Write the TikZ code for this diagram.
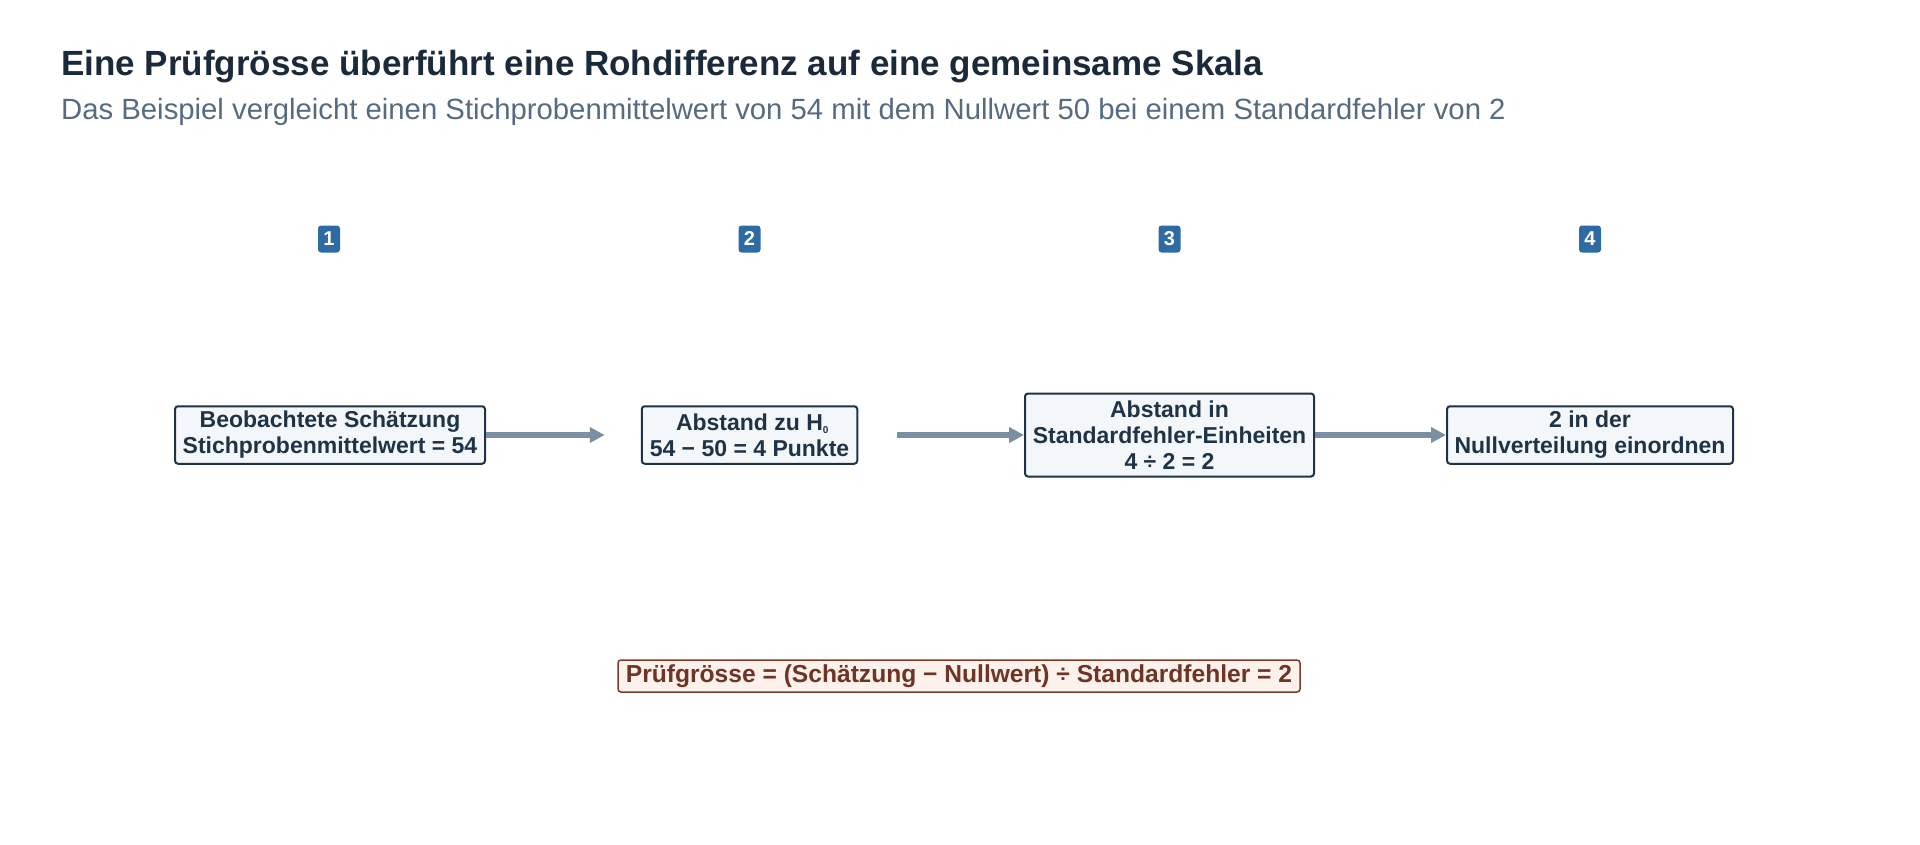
\documentclass[tikz,border=0pt]{standalone}
\usepackage{fontspec}
\setmainfont{Liberation Sans}
\usetikzlibrary{arrows.meta}
\definecolor{titlec}{HTML}{1B2A3A}
\definecolor{subc}{HTML}{566B80}
\definecolor{badgec}{HTML}{2E6BA3}
\definecolor{boxfill}{HTML}{F3F7FA}
\definecolor{boxline}{HTML}{1F3347}
\definecolor{arrowc}{HTML}{7A8FA1}
\definecolor{fmfill}{HTML}{FCF2EB}
\definecolor{fmline}{HTML}{7A3B2B}
\definecolor{fmtext}{HTML}{6E3425}
\tikzset{
  stepbox/.style={draw=boxline, line width=2pt, fill=boxfill, rounded corners=3pt,
    text=boxline, align=center, inner sep=0pt,
    font=\fontsize{23}{26}\selectfont\bfseries},
  badge/.style={fill=badgec, rounded corners=3pt, text=white, inner sep=0pt,
    minimum width=22pt, minimum height=27pt, font=\fontsize{20}{20}\selectfont\bfseries},
  flow/.style={draw=arrowc, line width=5.5pt, -{Triangle[length=15pt,width=15pt]}},
}
\begin{document}
\begin{tikzpicture}[x=1pt,y=-1pt]
\useasboundingbox (0,0) rectangle (1920,844);
\node[anchor=base west, inner sep=0pt, text=titlec, font=\fontsize{35}{40}\selectfont\bfseries] (title) at (61,75)
  {Eine Prüfgrösse überführt eine Rohdifferenz auf eine gemeinsame Skala};
\node[anchor=base west, inner sep=0pt, text=subc, font=\fontsize{29.3}{34}\selectfont] (subtitle) at (61,119)
  {Das Beispiel vergleicht einen Stichprobenmittelwert von 54 mit dem Nullwert 50 bei einem Standardfehler von 2};

\node[badge] (b1) at (329,239) {1};
\node[badge] (b2) at (749.5,239) {2};
\node[badge] (b3) at (1169.5,239) {3};
\node[badge] (b4) at (1590,239) {4};

\node[stepbox, minimum width=310pt, minimum height=57.5pt] (s1) at (330,435)
  {Beobachtete Schätzung\\Stichprobenmittelwert = 54};
\node[stepbox, minimum width=215.5pt, minimum height=57.5pt] (s2) at (749.5,435)
  {Abstand zu H\rlap{\raisebox{-3pt}{\fontsize{10}{10}\selectfont 0}}\\54 − 50 = 4 Punkte};
\node[stepbox, minimum width=289pt, minimum height=83pt] (s3) at (1169.5,435)
  {Abstand in\\Standardfehler-Einheiten\\4 ÷ 2 = 2};
\node[stepbox, minimum width=286pt, minimum height=57.5pt] (s4) at (1590,435)
  {2 in der\\Nullverteilung einordnen};

\draw[flow, shorten >=36pt] (s1.east) -- (s2.west);
\draw[flow, shorten <=39pt] (s2.east) -- (s3.west);
\draw[flow] (s3.east) -- (s4.west);

\node[draw=fmline, line width=1.5pt, fill=fmfill, rounded corners=3pt, text=fmtext,
  inner sep=0pt, minimum width=682pt, minimum height=32pt,
  font=\fontsize{24.6}{26}\selectfont\bfseries] (formula) at (959,676)
  {Prüfgrösse = (Schätzung − Nullwert) ÷ Standardfehler = 2};
\end{tikzpicture}
\end{document}
